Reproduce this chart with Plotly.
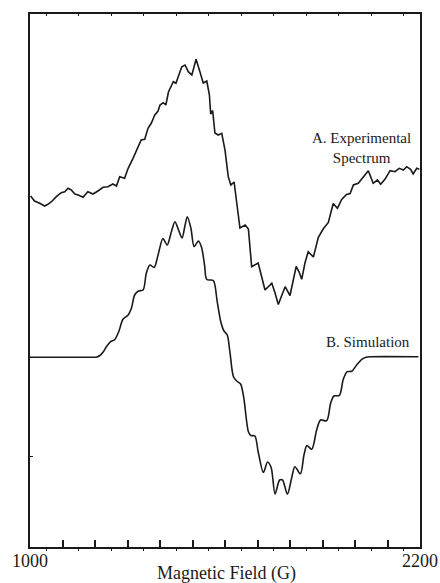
import plotly.graph_objects as go

# A. experimental spectrum (field in G, intensity in a.u.)
exp_field = [1002, 1014, 1030, 1045, 1055, 1066, 1081, 1096, 1107, 1117, 1127, 1138, 1148, 1163,
             1178, 1194, 1209, 1225, 1240, 1255, 1266, 1276, 1291, 1302, 1317, 1332, 1342, 1353,
             1363, 1373, 1384, 1394, 1400, 1410, 1418, 1426, 1441, 1449, 1456, 1467, 1477, 1487,
             1498, 1511, 1523, 1533, 1544, 1552, 1556, 1562, 1569, 1579, 1590, 1600, 1610, 1618,
             1628, 1636, 1646, 1662, 1672, 1682, 1692, 1702, 1713, 1723, 1733, 1744, 1754, 1764,
             1774, 1785, 1800, 1809, 1819, 1828, 1836, 1846, 1856, 1872, 1887, 1902, 1918, 1933,
             1946, 1959, 1974, 1985, 1995, 2010, 2026, 2041, 2056, 2069, 2079, 2092, 2108, 2123,
             2136, 2149, 2159, 2171, 2179, 2190, 2198]
exp_signal = [351, 346, 343.7, 341, 342.7, 345.3, 350.3, 354.3, 355.3, 358.7, 357, 353, 352, 349.7,
              355.3, 353, 356, 359.7, 360.3, 363, 361, 370.3, 368.7, 378.7, 388.7, 398.7, 407, 407.7,
              418.7, 423.7, 432, 436, 442, 444.3, 442, 455, 465.3, 463.7, 470.3, 480.3, 482, 475.3,
              472, 487.7, 475, 464, 466, 452, 433, 436.5, 414, 412, 413.7, 397, 370.3, 362,
              365, 344, 319, 322, 318, 280.3, 282, 284, 270, 257, 260.3, 263.7, 254, 242.5,
              251, 260.3, 251.5, 265, 280.5, 275, 267.7, 284, 295.3, 290, 309.5, 318, 324.5, 343.5,
              338.7, 347.5, 352.5, 353.5, 362, 363.7, 370.3, 376.3, 363.7, 367, 362.7, 367.7, 376.3, 375.3,
              378.7, 377, 380.3, 377.7, 373, 378.7, 377.7]

# B. simulation
sim_field = [1000, 1092, 1185, 1206, 1215, 1225, 1235, 1248, 1261, 1273, 1286, 1302, 1312, 1322,
             1334, 1348, 1358, 1369, 1382, 1394, 1409, 1422, 1435, 1446, 1457, 1468, 1476, 1484,
             1495, 1505, 1518, 1528, 1537, 1544, 1564, 1576, 1587, 1597, 1607, 1615, 1626, 1636,
             1648, 1658, 1672, 1680, 1692, 1702, 1718, 1731, 1742, 1754, 1768, 1777, 1792, 1805,
             1815, 1832, 1843, 1852, 1867, 1882, 1894, 1913, 1925, 1935, 1952, 1964, 1976, 1990,
             2005, 2021, 2034, 2046, 2195]
sim_signal = [189.7, 189.7, 189.8, 190, 191.5, 195, 200.3, 205.3, 207.5, 215.3, 227.7, 232, 238.7, 252,
              256, 257, 274, 282, 279.5, 292, 308.5, 302, 315.3, 325.3, 317, 309, 320, 330.3,
              319, 300.5, 306, 299.5, 282, 267.5, 266.5, 245.3, 225.3, 216, 212, 195.3, 170.3, 166,
              163, 148.7, 115.3, 111.5, 111, 95.3, 74.5, 85, 79.5, 53, 67, 67, 52.7, 69,
              80.3, 73.2, 92, 101.5, 97.7, 117, 127, 126.3, 143.7, 151, 151.7, 167.7, 175.3, 175.7,
              182, 187.7, 189.7, 190.2, 190.2]

major_ticks = list(range(1000, 2201, 100))
major_text = ["1000"] + [""] * 11 + ["2200"]
top_ticks = list(range(1050, 2151, 100))

serif = "Liberation Serif, Times New Roman, serif"
ink = "#1a1a1a"

fig = go.Figure()
fig.add_trace(go.Scatter(x=exp_field, y=exp_signal, mode="lines",
                         line=dict(color=ink, width=1.6), showlegend=False))
fig.add_trace(go.Scatter(x=sim_field, y=sim_signal, mode="lines",
                         line=dict(color=ink, width=1.6, shape="spline", smoothing=0.8),
                         showlegend=False))
# invisible trace to activate the top axis
fig.add_trace(go.Scatter(x=[1000, 2200], y=[0, 0], xaxis="x2", mode="lines",
                         line=dict(width=0), hoverinfo="skip", showlegend=False))

fig.add_annotation(x=2021, y=399, text="A. Experimental<br>Spectrum", showarrow=False,
                   font=dict(family=serif, size=15, color=ink), align="center")
fig.add_annotation(x=2040, y=205, text="B. Simulation", showarrow=False,
                   font=dict(family=serif, size=15, color=ink))
fig.add_annotation(xref="paper", yref="paper", x=0.505, y=-0.049, yanchor="middle",
                   text="Magnetic Field (G)", showarrow=False,
                   font=dict(family=serif, size=18, color=ink))

fig.update_layout(
    width=440, height=583,
    margin=dict(l=30, r=20, t=14, b=36),
    plot_bgcolor="white", paper_bgcolor="white",
    font=dict(family=serif, color=ink),
    xaxis=dict(range=[1000, 2200], showgrid=False, zeroline=False, automargin=False,
               showline=True, linecolor=ink, linewidth=1.5, mirror=True,
               tickvals=major_ticks, ticktext=major_text,
               ticks="inside", ticklen=7, tickwidth=1.5, tickcolor=ink,
               tickfont=dict(size=18), ticklabelstandoff=-3,
               minor=dict(tickvals=top_ticks, ticks="outside", ticklen=2, tickwidth=1, tickcolor=ink)),
    xaxis2=dict(range=[1000, 2200], overlaying="x", side="top", showgrid=False,
                zeroline=False, showticklabels=False, tickvals=top_ticks, automargin=False,
                ticks="inside", ticklen=2, tickwidth=1, tickcolor=ink),
    yaxis=dict(range=[0, 533], showgrid=False, zeroline=False, automargin=False,
               showline=True, linecolor=ink, linewidth=1.5, mirror=True,
               showticklabels=False, tickvals=[91], ticks="inside", ticklen=3,
               tickwidth=1, tickcolor=ink),
)

fig.write_html("out.html", config={"displayModeBar": False},
               post_script="document.body.style.margin='0';")
